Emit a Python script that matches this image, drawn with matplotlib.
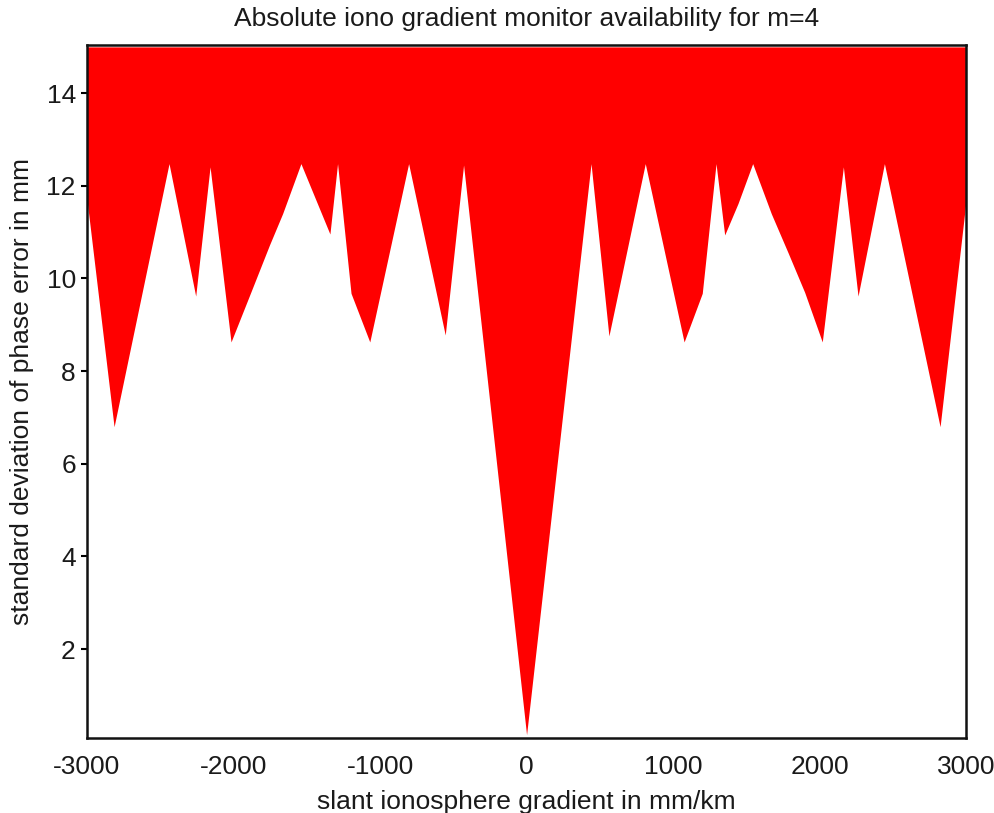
import matplotlib
matplotlib.use('Agg')
import matplotlib.pyplot as plt
import numpy as np

# boundary of the unavailable (red) region
grad = [-3000, -2815, -2440, -2258, -2160, -2017, -1880, -1755, -1665, -1540,
        -1428, -1342, -1290, -1198, -1070, -805, -555, -430, 0,
        440, 562, 810, 1075, 1199, 1293, 1352, 1443, 1543, 1670, 1784,
        1898, 2018, 2162, 2262, 2442, 2822, 3000]
sigma = [11.7, 6.8, 12.48, 9.62, 12.41, 8.63, 9.72, 10.72, 11.4, 12.48,
         11.62, 10.96, 12.48, 9.68, 8.63, 12.48, 8.78, 12.45, 0.15,
         12.48, 8.76, 12.48, 8.63, 9.68, 12.48, 10.94, 11.62, 12.48, 11.4, 10.56,
         9.7, 8.63, 12.41, 9.62, 12.48, 6.8, 11.7]
sigma_top = 15.0

plt.rcParams['font.family'] = ['Liberation Sans', 'DejaVu Sans']
plt.rcParams['axes.unicode_minus'] = False

fig = plt.figure(figsize=(9.94, 8.13), dpi=100)
ax = fig.add_axes([0.0875, 0.0923, 0.8845, 0.8523])

ax.fill_between(grad, sigma, sigma_top, color='#ff0000', linewidth=0)

ax.set_xlim(-3000, 3000)
ax.set_ylim(0.08, 15.04)
ax.set_xticks(np.arange(-3000, 3001, 1000))
ax.set_yticks(np.arange(2, 15, 2))
ax.tick_params(axis='x', length=0, pad=12, labelsize=19, labelcolor='#1a1a1a')
ax.tick_params(axis='y', length=4, width=1.5, pad=4, labelsize=19, labelcolor='#1a1a1a')
for s in ax.spines.values():
    s.set_linewidth(1.8)
    s.set_color('#111111')

ax.set_title('Absolute iono gradient monitor availability for m=4', fontsize=19, pad=14,
             color='#1a1a1a')
ax.set_xlabel('slant ionosphere gradient in mm/km', fontsize=19, labelpad=8, color='#1a1a1a')
ax.set_ylabel('standard deviation of phase error in mm', fontsize=19, labelpad=9,
              color='#1a1a1a')

plt.savefig('out.png', dpi=100)
